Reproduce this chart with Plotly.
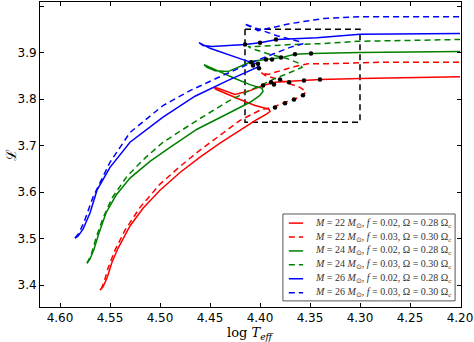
import plotly.graph_objects as go

# evolutionary tracks: log Teff, luminosity
t_22a = [4.560, 4.557, 4.553, 4.548, 4.542, 4.530, 4.517, 4.500, 4.480, 4.460, 4.440, 4.420, 4.403, 4.394, 4.390, 4.391,
         4.405, 4.420, 4.435, 4.444, 4.446, 4.442, 4.425, 4.410, 4.397, 4.385, 4.370, 4.355, 4.340, 4.300, 4.260, 4.200]
l_22a = [3.389, 3.396, 3.415, 3.449, 3.479, 3.527, 3.565, 3.604, 3.642, 3.675, 3.705, 3.733, 3.756, 3.767, 3.773, 3.778,
         3.786, 3.799, 3.812, 3.821, 3.825, 3.823, 3.810, 3.818, 3.829, 3.836, 3.838, 3.840, 3.842, 3.844, 3.846, 3.848]

t_22b = [4.559, 4.556, 4.552, 4.545, 4.535, 4.520, 4.500, 4.480, 4.460, 4.440, 4.420, 4.400, 4.385, 4.375, 4.366, 4.357,
         4.354, 4.360, 4.370, 4.382, 4.395, 4.399, 4.392, 4.380, 4.365, 4.352, 4.330, 4.280, 4.200]
l_22b = [3.391, 3.406, 3.436, 3.475, 3.518, 3.567, 3.617, 3.655, 3.690, 3.722, 3.754, 3.776, 3.784, 3.793, 3.799, 3.808,
         3.816, 3.825, 3.833, 3.842, 3.851, 3.857, 3.853, 3.861, 3.870, 3.876, 3.876, 3.879, 3.879]

t_24a = [4.573, 4.570, 4.566, 4.561, 4.554, 4.544, 4.530, 4.510, 4.490, 4.463, 4.430, 4.410, 4.401, 4.397, 4.398, 4.410,
         4.425, 4.440, 4.452, 4.456, 4.453, 4.445, 4.432, 4.418, 4.408, 4.394, 4.379, 4.365, 4.349, 4.300, 4.200]
l_24a = [3.447, 3.456, 3.477, 3.512, 3.555, 3.593, 3.630, 3.666, 3.696, 3.735, 3.771, 3.793, 3.806, 3.816, 3.823, 3.831,
         3.844, 3.859, 3.870, 3.874, 3.868, 3.861, 3.859, 3.872, 3.881, 3.885, 3.889, 3.896, 3.898, 3.900, 3.902]

t_24b = [4.573, 4.569, 4.564, 4.557, 4.548, 4.533, 4.515, 4.497, 4.463, 4.432, 4.408, 4.385, 4.370, 4.358, 4.360, 4.373,
         4.393, 4.409, 4.412, 4.404, 4.385, 4.370, 4.340, 4.303, 4.200]
l_24b = [3.447, 3.464, 3.501, 3.544, 3.587, 3.634, 3.673, 3.707, 3.754, 3.795, 3.821, 3.844, 3.857, 3.868, 3.876, 3.887,
         3.898, 3.909, 3.913, 3.913, 3.915, 3.917, 3.919, 3.924, 3.928]

t_26a = [4.585, 4.582, 4.577, 4.570, 4.563, 4.550, 4.530, 4.497, 4.465, 4.432, 4.403, 4.401, 4.415, 4.433, 4.450, 4.459,
         4.461, 4.457, 4.448, 4.415, 4.400, 4.383, 4.343, 4.300, 4.200]
l_26a = [3.501, 3.505, 3.520, 3.555, 3.604, 3.653, 3.707, 3.761, 3.806, 3.840, 3.868, 3.874, 3.883, 3.896, 3.909, 3.919,
         3.921, 3.915, 3.913, 3.917, 3.921, 3.928, 3.932, 3.939, 3.941]

t_26b = [4.585, 4.581, 4.576, 4.567, 4.550, 4.530, 4.497, 4.470, 4.437, 4.403, 4.370, 4.357, 4.360, 4.383, 4.400, 4.416,
         4.410, 4.402, 4.387, 4.370, 4.337, 4.300, 4.200]
l_26b = [3.501, 3.512, 3.535, 3.589, 3.664, 3.728, 3.786, 3.818, 3.851, 3.883, 3.911, 3.919, 3.923, 3.936, 3.949, 3.962,
         3.956, 3.947, 3.954, 3.962, 3.973, 3.977, 3.977]

# marked models
dot_t = [4.415, 4.400, 4.384, 4.409, 4.407, 4.402, 4.401, 4.394, 4.388, 4.379, 4.365, 4.349,
         4.397, 4.389, 4.386, 4.380, 4.371, 4.356, 4.340, 4.385, 4.375, 4.366, 4.357]
dot_l = [3.917, 3.921, 3.928, 3.879, 3.872, 3.876, 3.866, 3.885, 3.885, 3.889, 3.896, 3.898,
         3.829, 3.836, 3.831, 3.842, 3.836, 3.840, 3.842, 3.782, 3.791, 3.799, 3.808]

box_t = [4.415, 4.300, 4.300, 4.415, 4.415]
box_l = [3.950, 3.950, 3.750, 3.750, 3.950]

tracks = [
    (t_22a, l_22a, '#ff0000', 'solid', '22', '0.02', '0.28'),
    (t_22b, l_22b, '#ff0000', '6px,4px', '22', '0.03', '0.30'),
    (t_24a, l_24a, '#008000', 'solid', '24', '0.02', '0.28'),
    (t_24b, l_24b, '#008000', '6px,4px', '24', '0.03', '0.30'),
    (t_26a, l_26a, '#0000ff', 'solid', '26', '0.02', '0.28'),
    (t_26b, l_26b, '#0000ff', '6px,4px', '26', '0.03', '0.30'),
]

fig = go.Figure()

fig.add_trace(go.Scatter(x=box_t, y=box_l, mode='lines', showlegend=False,
                         line=dict(color='black', width=1.5, dash='6px,4px')))

for t, l, c, d, m, f, om in tracks:
    fig.add_trace(go.Scatter(x=t, y=l, mode='lines', showlegend=False,
                             line=dict(color=c, width=1.5, dash=d)))

fig.add_trace(go.Scatter(x=dot_t, y=dot_l, mode='markers', showlegend=False,
                         marker=dict(color='black', size=4.5)))

# hand-made legend (matplotlib style, compact rows)
shapes = [dict(type='rect', xref='paper', yref='paper', x0=0.577, x1=0.986, y0=0.020, y1=0.305,
               fillcolor='white', line=dict(color='#555555', width=1), layer='above')]
annotations = []
row_top, row_step = 0.275, 0.0456
for i, (t, l, c, d, m, f, om) in enumerate(tracks):
    yy = row_top - i * row_step
    shapes.append(dict(type='line', xref='paper', yref='paper', x0=0.591, x1=0.625, y0=yy, y1=yy,
                       line=dict(color=c, width=1.5, dash=d), layer='above'))
    annotations.append(dict(
        xref='paper', yref='paper', x=0.648, y=yy, xanchor='left', yanchor='middle', showarrow=False,
        text=(f'<i>M</i> = {m} <i>M</i><sub>⊙</sub>, <i>f</i> = {f}, '
              f'Ω = {om} Ω<sub>c</sub>'),
        font=dict(family='Liberation Serif', size=10, color='#333333')))

annotations.append(dict(xref='paper', yref='paper', x=0.5, y=-0.087, xanchor='center', yanchor='middle',
                        showarrow=False, text='log <i>T</i><sub><i>eff</i></sub>',
                        font=dict(family='DejaVu Serif', size=13, color='black')))
annotations.append(dict(xref='paper', yref='paper', x=-0.071, y=0.5, xanchor='center', yanchor='middle',
                        showarrow=False, text='ℒ', textangle=-90,
                        font=dict(family='DejaVu Serif', size=14, color='black')))

axis_style = dict(showline=True, linecolor='black', linewidth=1, mirror='allticks', automargin=False,
                  ticks='inside', ticklen=4, tickcolor='black', showgrid=False, zeroline=False,
                  tickfont=dict(family='DejaVu Sans', size=12, color='black'))

fig.update_layout(
    width=474, height=342,
    margin=dict(l=40, r=13, t=2, b=35),
    plot_bgcolor='white', paper_bgcolor='white',
    showlegend=False,
    xaxis=dict(range=[4.62, 4.199], tickvals=[4.60, 4.55, 4.50, 4.45, 4.40, 4.35, 4.30, 4.25, 4.20],
               tickformat='.2f', **axis_style),
    yaxis=dict(range=[3.3528, 4.0086], tickvals=[3.4, 3.5, 3.6, 3.7, 3.8, 3.9, 4.0], tickformat='.1f',
               **axis_style),
    shapes=shapes,
    annotations=annotations,
)

fig.write_html("out.html", config={'displayModeBar': False},
               post_script="document.body.style.margin='0';")
